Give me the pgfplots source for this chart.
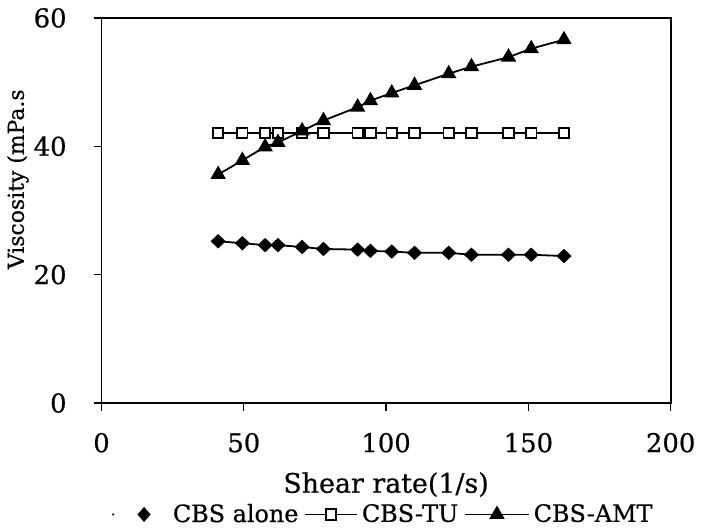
\documentclass[border=0pt]{standalone}
\usepackage{fontspec}
\setmainfont{DejaVu Serif}[FakeBold=0.6]
\usepackage{pgfplots}
\pgfplotsset{compat=1.18}
\begin{document}
\begin{tikzpicture}
\begin{axis}[
  scale only axis,
  width=286pt, height=193.5pt,
  xmin=0, xmax=200, ymin=0, ymax=60,
  xtick={0,50,100,150,200}, ytick={0,20,40,60},
  tick align=outside, major tick length=4pt,
  tick style={black, line width=0.6pt},
  axis line style={line width=0.9pt},
  xtick pos=bottom, ytick pos=left,
  clip=false,
  /pgf/number format/assume math mode=true,
  ticklabel style={font=\fontsize{13}{15}\selectfont},
  xticklabel style={yshift=-7.5pt},
  yticklabel style={xshift=-10pt},
  xlabel={Shear rate(1/s)},
  xlabel style={at={(axis description cs:0.5,0)}, anchor=center, yshift=-41pt, font=\fontsize{13.5}{15}\selectfont},
  ylabel={Viscosity (mPa.s},
  ylabel style={at={(axis description cs:-0.1469,0.581)}, anchor=center, inner sep=0pt, font=\fontsize{11}{13}\selectfont},
  legend style={at={(axis description cs:0.495,0)}, anchor=center, yshift=-56pt,
    draw=none, fill=none, legend columns=-1, font=\fontsize{12}{14}\selectfont,
    inner sep=0pt, nodes={inner sep=1pt},
    /tikz/every odd column/.append style={column sep=1pt},
    /tikz/every even column/.append style={column sep=2pt}},
  legend cell align=left,
]
\path (axis description cs:-0.1783,-0.3256) rectangle (axis description cs:1.049,1.0465);
\addplot[black, line width=0.9pt, mark=diamond*, mark size=3pt, mark options={solid, fill=black, xscale=1.4},
  legend image code/.code={
    \path[draw=none, fill=none] (0pt,-1pt) rectangle (28pt,1pt);
    \fill[black, draw=none] (0pt,0pt) circle (0.6pt);
    \fill[black, draw=none] (15.5pt,3.8pt) -- (18.8pt,0pt) -- (15.5pt,-3.8pt) -- (12.2pt,0pt) -- cycle;
  }] coordinates {
(41,25.2) (49.5,24.9) (57.5,24.6) (62,24.6) (70.5,24.3) (78,24.0) (90,23.9) (94.5,23.7) (102,23.6) (110,23.4) (122,23.4) (130,23.1) (143,23.1) (151,23.1) (162.5,22.9)
};
\addlegendentry{CBS alone}
\addplot[black, line width=0.9pt, mark=square*, mark size=2.6pt, mark options={solid, fill=white, line width=0.9pt},
  legend image code/.code={
    \draw[mark repeat=2, mark phase=2] plot coordinates {(0pt,0pt) (13pt,0pt) (26pt,0pt)};
  }] coordinates {
(41,42.1) (49.5,42.1) (57.5,42.1) (62,42.1) (70.5,42.1) (78,42.1) (90,42.1) (94.5,42.1) (102,42.1) (110,42.1) (122,42.1) (130,42.1) (143,42.1) (151,42.1) (162.5,42.1)
};
\addlegendentry{CBS-TU}
\addplot[black, line width=0.9pt, smooth, tension=0.3, mark=triangle*, mark size=3.6pt, mark options={solid, fill=black},
  legend image code/.code={
    \draw[mark repeat=2, mark phase=2] plot coordinates {(0pt,0pt) (16pt,0pt) (32pt,0pt)};
  }] coordinates {
(41,35.6) (49.5,37.8) (57.5,39.9) (62,40.6) (70.5,42.4) (78,44.0) (90,46.1) (94.5,47.1) (102,48.3) (110,49.5) (122,51.3) (130,52.4) (143,53.9) (151,55.2) (162.5,56.6)
};
\addlegendentry{CBS-AMT}
\end{axis}
\end{tikzpicture}
\end{document}
